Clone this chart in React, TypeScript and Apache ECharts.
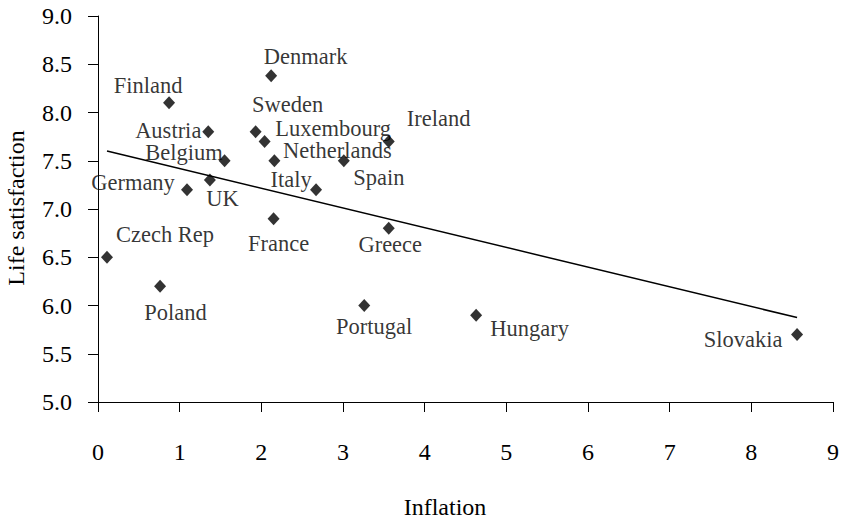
import React, { useEffect, useRef } from "react";
import * as echarts from "echarts";

const countries = [
  "Czech Rep", "Poland", "Finland", "Germany", "Austria", "UK", "Belgium",
  "Sweden", "Luxembourg", "Denmark", "Netherlands", "France", "Italy",
  "Spain", "Portugal", "Ireland", "Greece", "Hungary", "Slovakia",
];
const inflation = [
  0.11, 0.76, 0.87, 1.09, 1.35, 1.37, 1.55,
  1.93, 2.04, 2.12, 2.16, 2.15, 2.67,
  3.01, 3.26, 3.56, 3.56, 4.63, 8.56,
];
const lifeSatisfaction = [
  6.5, 6.2, 8.1, 7.2, 7.8, 7.3, 7.5,
  7.8, 7.7, 8.38, 7.5, 6.9, 7.2,
  7.5, 6.0, 7.7, 6.8, 5.9, 5.7,
];
// label offsets (px) of each country name from its marker
const labelOffsets: [number, number][] = [
  [58, -22.5], [15.5, 26.5], [-21, -17], [-54, -7], [-40, -1.5], [12.5, 18.5], [-40.5, -8.5],
  [32, -27], [68.5, -12.5], [34.5, -19], [63, -10.5], [5, 25], [-25, -10.5],
  [35, 17], [10, 21], [50, -22.5], [1.5, 16], [53.5, 13], [-54, 5.5],
];
const trendX = [0.11, 8.56];
const trendY = [7.6, 5.875];
const xTicks = { min: 0, max: 9, interval: 1 };
const yTicks = { min: 5, max: 9, interval: 0.5 };

const FONT = "Liberation Serif";

export default function App() {
  const ref = useRef<HTMLDivElement>(null);
  useEffect(() => {
    if (!ref.current) return;
    const chart = echarts.init(ref.current, undefined, { renderer: "svg" });
    const scatterData = countries.map((c, i) => ({
      name: c,
      value: [inflation[i], lifeSatisfaction[i]],
      label: {
        show: true,
        position: "inside",
        offset: labelOffsets[i],
        formatter: c,
        align: "center",
        verticalAlign: "middle",
        color: "#000",
        fontFamily: FONT,
        fontSize: 22.5,
      },
    }));
    chart.setOption({
      animation: false,
      backgroundColor: "#fff",
      grid: { left: 98, right: 8, top: 16, bottom: 120, containLabel: false },
      xAxis: {
        type: "value",
        min: xTicks.min,
        max: xTicks.max,
        interval: xTicks.interval,
        axisLine: { show: true, onZero: false, lineStyle: { color: "#000", width: 1 } },
        axisTick: { show: true, length: 10, lineStyle: { color: "#000" } },
        axisLabel: { margin: 38, color: "#000", fontFamily: FONT, fontSize: 24 },
        splitLine: { show: false },
      },
      yAxis: {
        type: "value",
        min: yTicks.min,
        max: yTicks.max,
        interval: yTicks.interval,
        axisLine: { show: true, onZero: false, lineStyle: { color: "#000", width: 1 } },
        axisTick: { show: true, length: 10, lineStyle: { color: "#000" } },
        axisLabel: {
          margin: 26,
          color: "#000",
          fontFamily: FONT,
          fontSize: 24,
          formatter: (v: number) => v.toFixed(1),
        },
        splitLine: { show: false },
      },
      series: [
        {
          type: "line",
          data: trendX.map((x, i) => [x, trendY[i]]),
          showSymbol: false,
          symbol: "none",
          lineStyle: { color: "#000", width: 1.5 },
          silent: true,
          z: 1,
        },
        {
          type: "scatter",
          symbol: "diamond",
          symbolSize: [12, 13],
          itemStyle: { color: "#000" },
          data: scatterData,
          z: 2,
        },
      ],
      graphic: [
        {
          type: "text",
          x: 445,
          y: 507,
          style: {
            text: "Inflation",
            fill: "#000",
            fontFamily: FONT,
            fontSize: 24,
            align: "center",
            verticalAlign: "middle",
          },
        },
        {
          type: "text",
          x: 16,
          y: 208,
          rotation: Math.PI / 2,
          style: {
            text: "Life satisfaction",
            fill: "#000",
            fontFamily: FONT,
            fontSize: 24,
            align: "center",
            verticalAlign: "middle",
          },
        },
      ],
    });
    return () => chart.dispose();
  }, []);
  return (
    <div
      ref={ref}
      style={{ position: "fixed", left: 0, top: 0, width: 842, height: 522, background: "#fff" }}
    />
  );
}
